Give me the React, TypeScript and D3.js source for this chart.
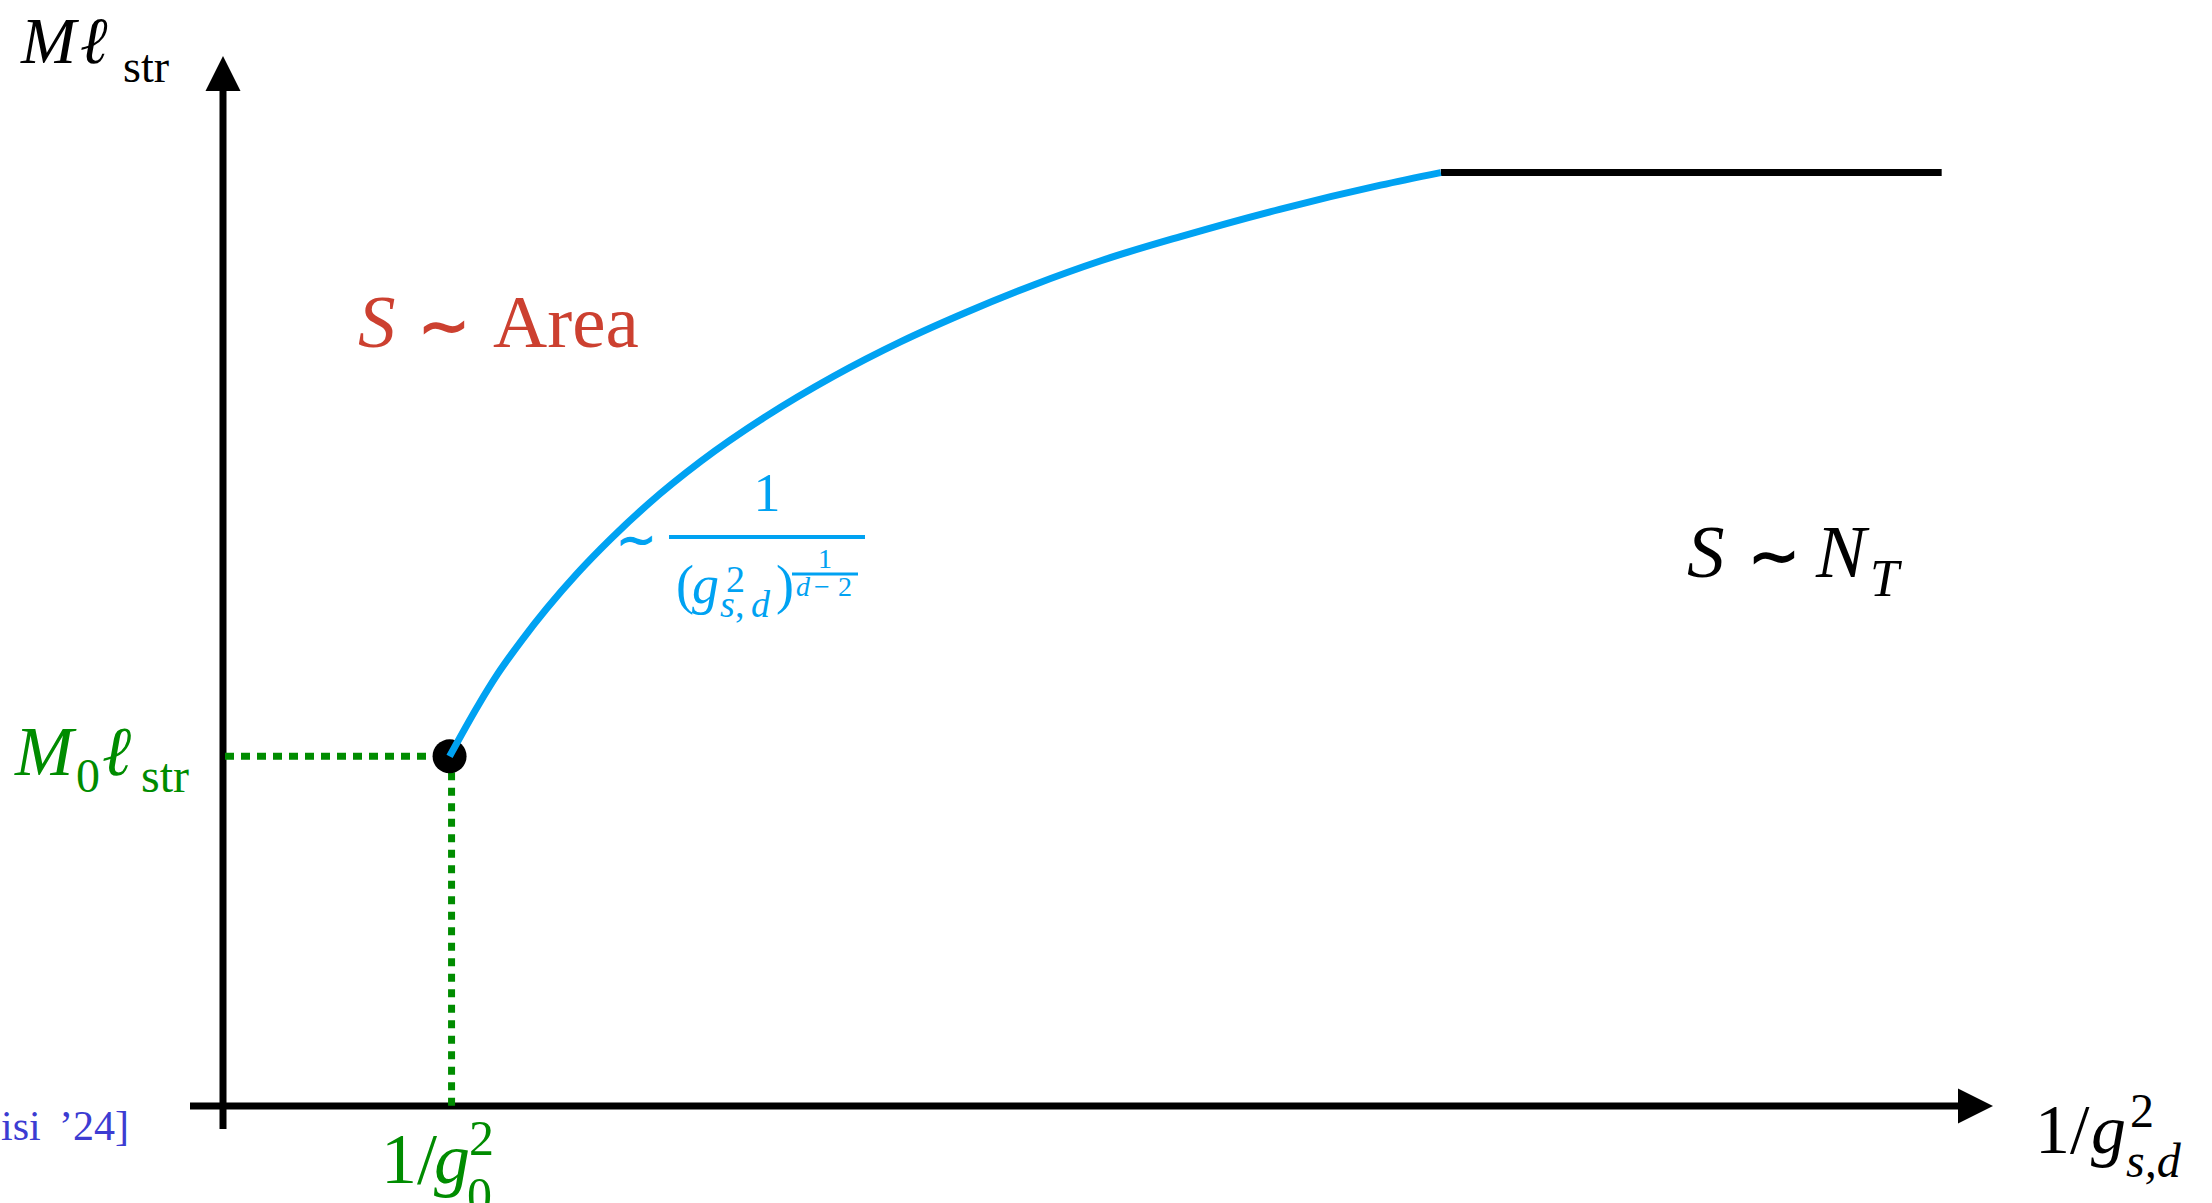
import React from "react";
import * as d3 from "d3";

// Blue branch of M·ℓ_str against 1/g²_{s,d}
const curveX = [1.28, 1.44, 1.55, 1.69, 1.83, 2.0, 2.19, 2.4, 2.7, 3.07, 3.45, 3.83, 4.2, 4.58, 4.96, 5.41, 5.97, 6.54, 6.88];
const curveY = [3.33, 3.81, 4.11, 4.44, 4.74, 5.07, 5.4, 5.73, 6.14, 6.57, 6.95, 7.28, 7.56, 7.82, 8.05, 8.28, 8.54, 8.77, 8.89];

// Saturated branch (S ~ N_T)
const plateauX = [6.88, 9.71];
const plateauY = [8.89, 8.89];

// Starting point (1/g0², M0 ℓ_str)
const startPoint = [1.28, 3.33];

const W = 2212;
const H = 1203;
const SERIF = "'Liberation Serif', 'Times New Roman', serif";
const BLUE = "#00a2f2";
const GREEN = "#008c00";
const RED = "#cc4030";

export default function App() {
  const x = d3.scaleLinear().domain([0, 10]).range([223, 1993]);
  const y = d3.scaleLinear().domain([0, 10]).range([1106, 56]);

  const line = d3
    .line<[number, number]>()
    .x((d) => x(d[0]))
    .y((d) => y(d[1]))
    .curve(d3.curveMonotoneX);

  const curvePts = curveX.map((v, i) => [v, curveY[i]] as [number, number]);
  const plateauPts = plateauX.map((v, i) => [v, plateauY[i]] as [number, number]);

  const x0 = x(0);
  const y0 = y(0);
  const xEnd = x(10);
  const yEnd = y(10);
  const head = 35;
  const half = 17.5;

  const px = x(startPoint[0]);
  const py = y(startPoint[1]);

  return (
    <svg
      width={W}
      height={H}
      viewBox={`0 0 ${W} ${H}`}
      style={{ position: "absolute", left: 0, top: 0, background: "#fff" }}
    >
      {/* axes */}
      <line x1={x0} y1={y0 + 23} x2={x0} y2={yEnd + head - 1} stroke="#000" strokeWidth={7} />
      <path d={`M${x0},${yEnd} L${x0 - half},${yEnd + head} L${x0 + half},${yEnd + head} Z`} fill="#000" />
      <line x1={x0 - 33} y1={y0} x2={xEnd - head + 1} y2={y0} stroke="#000" strokeWidth={7} />
      <path d={`M${xEnd},${y0} L${xEnd - head},${y0 - half} L${xEnd - head},${y0 + half} Z`} fill="#000" />

      {/* guides to the starting point */}
      <line x1={x0 + 2} y1={py} x2={px - 18} y2={py} stroke={GREEN} strokeWidth={7} strokeDasharray="9,7" />
      <line x1={px + 2} y1={py + 16} x2={px + 2} y2={y0 + 7} stroke={GREEN} strokeWidth={7} strokeDasharray="8,7.5" />

      <circle cx={px} cy={py} r={17} fill="#000" />

      {/* branches */}
      <path d={line(plateauPts) ?? ""} fill="none" stroke="#000" strokeWidth={7} />
      <path d={line(curvePts) ?? ""} fill="none" stroke={BLUE} strokeWidth={7} />

      {/* y-axis title */}
      <text fontFamily={SERIF} fill="#000">
        <tspan x={21} y={63} fontSize={66} fontStyle="italic">M</tspan>
        <tspan x={80} y={63} fontSize={66} fontStyle="italic">ℓ</tspan>
        <tspan x={123} y={82} fontSize={46}>str</tspan>
      </text>

      {/* x-axis title */}
      <text fontFamily={SERIF} fill="#000">
        <tspan x={2035} y={1153} fontSize={70}>1/</tspan>
        <tspan x={2091} y={1153} fontSize={70} fontStyle="italic">g</tspan>
        <tspan x={2130} y={1127} fontSize={48}>2</tspan>
        <tspan x={2126} y={1177} fontSize={48} fontStyle="italic">s,d</tspan>
      </text>

      {/* green markers on the axes */}
      <text fontFamily={SERIF} fill={GREEN}>
        <tspan x={15} y={775} fontSize={70} fontStyle="italic">M</tspan>
        <tspan x={76} y={792} fontSize={48}>0</tspan>
        <tspan x={102} y={775} fontSize={70} fontStyle="italic">ℓ</tspan>
        <tspan x={141} y={792} fontSize={48}>str</tspan>
      </text>
      <text fontFamily={SERIF} fill={GREEN}>
        <tspan x={381} y={1183} fontSize={72}>1/</tspan>
        <tspan x={434} y={1183} fontSize={72} fontStyle="italic">g</tspan>
        <tspan x={469} y={1155} fontSize={50}>2</tspan>
        <tspan x={467} y={1212} fontSize={50}>0</tspan>
      </text>

      {/* region labels */}
      <text fontFamily={SERIF} fill={RED}>
        <tspan x={358} y={347} fontSize={75} fontStyle="italic">S</tspan>
        <tspan x={418} y={347} fontSize={62} stroke={RED} strokeWidth={1.6}>∼</tspan>
        <tspan x={493} y={347} fontSize={75}>Area</tspan>
      </text>
      <text fontFamily={SERIF} fill="#000">
        <tspan x={1687} y={577} fontSize={75} fontStyle="italic">S</tspan>
        <tspan x={1748} y={577} fontSize={62} stroke="#000" strokeWidth={1.6}>∼</tspan>
        <tspan x={1816} y={577} fontSize={75} fontStyle="italic">N</tspan>
        <tspan x={1870} y={596} fontSize={52} fontStyle="italic">T</tspan>
      </text>

      {/* scaling of the blue branch */}
      <g fontFamily={SERIF} fill={BLUE}>
        <text x={616} y={556} fontSize={48} stroke={BLUE} strokeWidth={1.2}>∼</text>
        <line x1={669} y1={537} x2={865} y2={537} stroke={BLUE} strokeWidth={4} />
        <text x={767} y={511} fontSize={54} textAnchor="middle">1</text>
        <text fontSize={54}>
          <tspan x={676} y={603}>(</tspan>
          <tspan x={692} y={603} fontStyle="italic">g</tspan>
          <tspan x={726} y={592} fontSize={38}>2</tspan>
          <tspan x={720} y={617} fontSize={38} fontStyle="italic">s</tspan>
          <tspan x={735} y={617} fontSize={38}>,</tspan>
          <tspan x={751} y={617} fontSize={38} fontStyle="italic">d</tspan>
          <tspan x={776} y={603}>)</tspan>
        </text>
        <text x={825} y={568} fontSize={28} textAnchor="middle">1</text>
        <line x1={792} y1={574} x2={858} y2={574} stroke={BLUE} strokeWidth={3} />
        <text y={596} fontSize={28}>
          <tspan x={796} fontStyle="italic">d</tspan>
          <tspan x={814}>−</tspan>
          <tspan x={838}>2</tspan>
        </text>
      </g>

      {/* citation */}
      <text fontFamily={SERIF} fill="#3c3cd2" fontSize={42}>
        <tspan x={1} y={1140}>isi</tspan>
        <tspan x={59} y={1140}>’24]</tspan>
      </text>
    </svg>
  );
}
